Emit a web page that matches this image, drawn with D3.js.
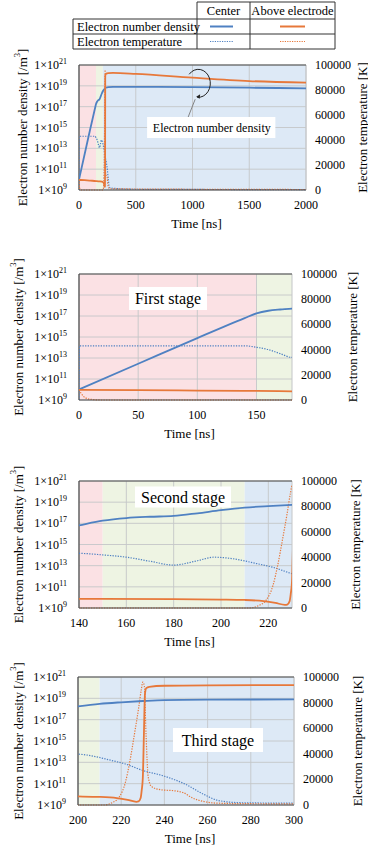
<!DOCTYPE html>
<html><head><meta charset="utf-8">
<script src="https://cdn.jsdelivr.net/npm/d3@7/dist/d3.min.js"></script>
<style>
html,body{margin:0;padding:0;background:#fff;}
svg{display:block;}
svg text{font-family:"Liberation Serif","DejaVu Serif","Times New Roman",serif;}
</style></head>
<body><svg id="c" width="368" height="850"></svg>
<script>
// ---------------- DATA ----------------
// Electron number density at the center [/m3]  ([time ns, log10 density])
const centerDensity = [[0,10.0],[50,12.45],[100,14.9],[140,16.8],[150,17.25],[160,17.5],[170,17.62],[180,17.7],[190,17.95],[200,18.24],[210,18.48],[220,18.63],[230,18.75],[240,18.84],[260,18.88],[300,18.9],[500,18.9],[1000,18.88],[1500,18.82],[2000,18.76]];
// Electron number density above electrode
const electrodeDensity = [[0,9.97],[50,9.94],[100,9.9],[150,9.86],[180,9.83],[200,9.8],[210,9.76],[218,9.65],[223,9.48],[227,9.3],[228,9.33],[229,9.65],[229.5,10.4],[230,11.5],[230.5,15.5],[231,19.4],[231.6,19.95],[233,20.08],[240,20.18],[260,20.22],[300,20.24],[500,20.15],[1000,19.78],[1500,19.46],[2000,19.3]];
// Electron temperature at the center [K]
const centerTemp = [[0,0],[0.4,43000],[100,43000],[140,43000],[150,41800],[160,40000],[170,36800],[180,33800],[190,37200],[197,40000],[205,38800],[215,35000],[222,32000],[230,27000],[240,22500],[250,16000],[258,8500],[265,3500],[275,1800],[300,1400],[500,600],[2000,300]];
// Electron temperature above electrode [K]
const electrodeTemp = [[0,8000],[2,5000],[5,2000],[10,500],[20,0],[212,0],[216,2000],[219,6000],[222,18000],[224,34000],[226,54000],[228,75000],[229.3,90000],[230,96000],[230.7,93000],[231.5,55000],[232.5,22000],[234,14500],[238,12000],[245,11000],[249,9500],[253,5500],[258,2800],[265,1400],[280,1000],[300,900],[2000,400]];
// stage bands [start, end]
const stageNames = ["First stage","Second stage","Third stage"];
const stageBounds = [[0,150],[150,210],[210,2000]];
const stageColors = ["#fbe1e4","#eef4e3","#dde9f6"];
// axis ticks
const densityTicks = [9,11,13,15,17,19,21];
const tempTicks = [0,20000,40000,60000,80000,100000];
const panelXDomains = [[0,2000],[0,180],[140,230],[200,300]];
const panelXTicks = [[0,500,1000,1500,2000],[0,50,100,150],[140,160,180,200,220],[200,220,240,260,280,300]];
const legendRows = ["Electron number density","Electron temperature"];
const legendCols = ["Center","Above electrode"];

const BLUE = "#4f81c2", ORANGE = "#e7783a";

// ---------------- LAYOUT ----------------
const panels = [
  {l:79,r:306,t:65,b:190, lt:22, rt:362, stage:null},
  {l:79,r:292,t:274,b:400, lt:18, rt:352, stage:{i:0, cx:168, cy:298.5, w:78, h:23}},
  {l:79,r:292,t:481,b:608, lt:18, rt:355, stage:{i:1, cx:183, cy:497, w:96, h:21}},
  {l:78,r:294,t:677,b:805, lt:18, rt:357, stage:{i:2, cx:218, cy:740, w:90, h:24}}
];

const svg = d3.select("#c");

// ---------------- LEGEND TABLE ----------------
(function(){
  const g = svg.append("g");
  const x0=73,x1=197,x2=250,x3=335, y0=2,y1=19,y2=34,y3=49;
  const ln=(a,b,c,d)=>g.append("line").attr("x1",a).attr("y1",b).attr("x2",c).attr("y2",d).attr("stroke","#333").attr("stroke-width",1);
  ln(x1,y0,x3,y0); ln(x0,y1,x3,y1); ln(x0,y2,x3,y2); ln(x0,y3,x3,y3);
  ln(x0,y1,x0,y3); ln(x1,y0,x1,y3); ln(x2,y0,x2,y3); ln(x3,y0,x3,y3);
  g.append("text").attr("x",(x1+x2)/2).attr("y",15).attr("text-anchor","middle").attr("font-size",12.5).text(legendCols[0]);
  g.append("text").attr("x",(x2+x3)/2).attr("y",15).attr("text-anchor","middle").attr("font-size",12.5).text(legendCols[1]);
  legendRows.forEach((t,i)=>{
    const yc = i===0 ? (y1+y2)/2 : (y2+y3)/2;
    g.append("text").attr("x",x0+4).attr("y",yc+4.5).attr("font-size",12.5).text(t);
    g.append("line").attr("x1",210).attr("x2",233).attr("y1",yc).attr("y2",yc).attr("stroke",BLUE).attr("stroke-width",i?1.2:2).attr("stroke-dasharray",i?"1.2,1.2":null);
    g.append("line").attr("x1",280).attr("x2",305).attr("y1",yc).attr("y2",yc).attr("stroke",ORANGE).attr("stroke-width",i?1.2:2).attr("stroke-dasharray",i?"1.2,1.2":null);
  });
})();

// ---------------- PANELS ----------------
panels.forEach((p,pi)=>{
  const g = svg.append("g");
  const x = d3.scaleLinear().domain(panelXDomains[pi]).range([p.l,p.r]);
  const yD = d3.scaleLinear().domain([9,21]).range([p.b,p.t]); // log10 density
  const yT = d3.scaleLinear().domain([0,100000]).range([p.b,p.t]);
  const [d0,d1] = panelXDomains[pi];
  const cid = "clip"+pi;
  g.append("clipPath").attr("id",cid).append("rect").attr("x",p.l).attr("y",p.t-1).attr("width",p.r-p.l).attr("height",p.b-p.t+2);

  stageBounds.forEach((s,i)=>{
    const a=Math.max(s[0],d0), b=Math.min(s[1],d1);
    if(b>a) g.append("rect").attr("x",x(a)).attr("y",p.t).attr("width",x(b)-x(a)).attr("height",p.b-p.t).attr("fill",stageColors[i]);
  });
  densityTicks.forEach(v=>g.append("line").attr("x1",p.l).attr("x2",p.r).attr("y1",yD(v)).attr("y2",yD(v)).attr("stroke","#c4c6c8").attr("stroke-width",0.9));
  panelXTicks[pi].forEach(v=>g.append("line").attr("x1",x(v)).attr("x2",x(v)).attr("y1",p.t).attr("y2",p.b).attr("stroke","#c4c6c8").attr("stroke-width",0.9));

  g.append("line").attr("x1",p.r).attr("x2",p.r).attr("y1",p.t).attr("y2",p.b).attr("stroke","#c4c6c8");
  g.append("line").attr("x1",p.l).attr("x2",p.r).attr("y1",p.t).attr("y2",p.t).attr("stroke","#4a4a4a").attr("stroke-width",1.2);
  g.append("line").attr("x1",p.l).attr("x2",p.l).attr("y1",p.t).attr("y2",p.b).attr("stroke","#4a4a4a").attr("stroke-width",1.2);

  if(p.stage){
    const s=p.stage;
    g.append("rect").attr("x",s.cx-s.w/2).attr("y",s.cy-s.h/2).attr("width",s.w).attr("height",s.h).attr("fill","#fff");
    g.append("text").attr("x",s.cx).attr("y",s.cy+5.5).attr("text-anchor","middle").attr("font-size",16).text(stageNames[s.i]);
  }
  if(pi===0){
    g.append("rect").attr("x",x(600)).attr("y",117).attr("width",x(1730)-x(600)).attr("height",21).attr("fill","#fff");
    g.append("text").attr("x",x(1170)).attr("y",131.5).attr("text-anchor","middle").attr("font-size",12).text("Electron number density");
  }

  const lc = g.append("g").attr("clip-path",`url(#${cid})`);
  const lineD = d3.line().x(d=>x(d[0])).y(d=>yD(d[1])).curve(d3.curveMonotoneX);
  const lineT = d3.line().x(d=>x(d[0])).y(d=>yT(d[1])).curve(d3.curveMonotoneX);
  lc.append("path").attr("d",lineT(centerTemp)).attr("fill","none").attr("stroke",BLUE).attr("stroke-width",1.2).attr("stroke-dasharray","1.3,1.3");
  lc.append("path").attr("d",lineT(electrodeTemp)).attr("fill","none").attr("stroke",ORANGE).attr("stroke-width",1.2).attr("stroke-dasharray","1.3,1.3");
  lc.append("path").attr("d",lineD(centerDensity)).attr("fill","none").attr("stroke",BLUE).attr("stroke-width",1.8);
  lc.append("path").attr("d",lineD(electrodeDensity)).attr("fill","none").attr("stroke",ORANGE).attr("stroke-width",1.8);

  g.append("line").attr("x1",p.l).attr("x2",p.r).attr("y1",p.b).attr("y2",p.b).attr("stroke","#4a4a4a").attr("stroke-width",1.2);

  if(pi===0){
    const cx=x(1050), cy=yD(19.15);
    g.append("path").attr("d",`M${cx-9},${cy-10} A12,14 0 1 1 ${cx-1},${cy+13}`).attr("fill","none").attr("stroke","#222").attr("stroke-width",1);
    g.append("path").attr("d",`M${cx-2},${cy+12.5} l4,-2.5 l-0.5,4.5 z`).attr("fill","#222");
    g.append("line").attr("x1",cx-3).attr("y1",cy+15).attr("x2",cx-10).attr("y2",117).attr("stroke","#777").attr("stroke-width",0.9);
  }

  densityTicks.forEach(v=>{
    const t = g.append("text").attr("x",p.l-12).attr("y",yD(v)+4).attr("text-anchor","end").attr("font-size",12);
    t.append("tspan").text("1×10");
    t.append("tspan").attr("font-size",8).attr("dy",-5).text(v);
  });
  tempTicks.forEach(v=>{
    g.append("text").attr("x",p.r+9).attr("y",yT(v)+4).attr("font-size",12).text(v);
  });
  panelXTicks[pi].forEach(v=>{
    g.append("text").attr("x",x(v)).attr("y",p.b+19).attr("text-anchor","middle").attr("font-size",12).text(v);
  });
  g.append("text").attr("x",(p.l+p.r)/2+4).attr("y",p.b+38).attr("text-anchor","middle").attr("font-size",13).text("Time [ns]");
  const lt = g.append("text").attr("transform",`translate(${p.lt},${(p.t+p.b)/2}) rotate(-90)`).attr("text-anchor","middle").attr("dominant-baseline","central").attr("font-size",13);
  lt.append("tspan").text("Electron number density [/m");
  lt.append("tspan").attr("font-size",8.5).attr("dy",-5).text("3");
  lt.append("tspan").attr("dy",5).text("]");
  g.append("text").attr("transform",`translate(${p.rt},${(p.t+p.b)/2}) rotate(-90)`).attr("text-anchor","middle").attr("dominant-baseline","central").attr("font-size",13).text("Electron temperature [K]");
});
</script></body></html>
